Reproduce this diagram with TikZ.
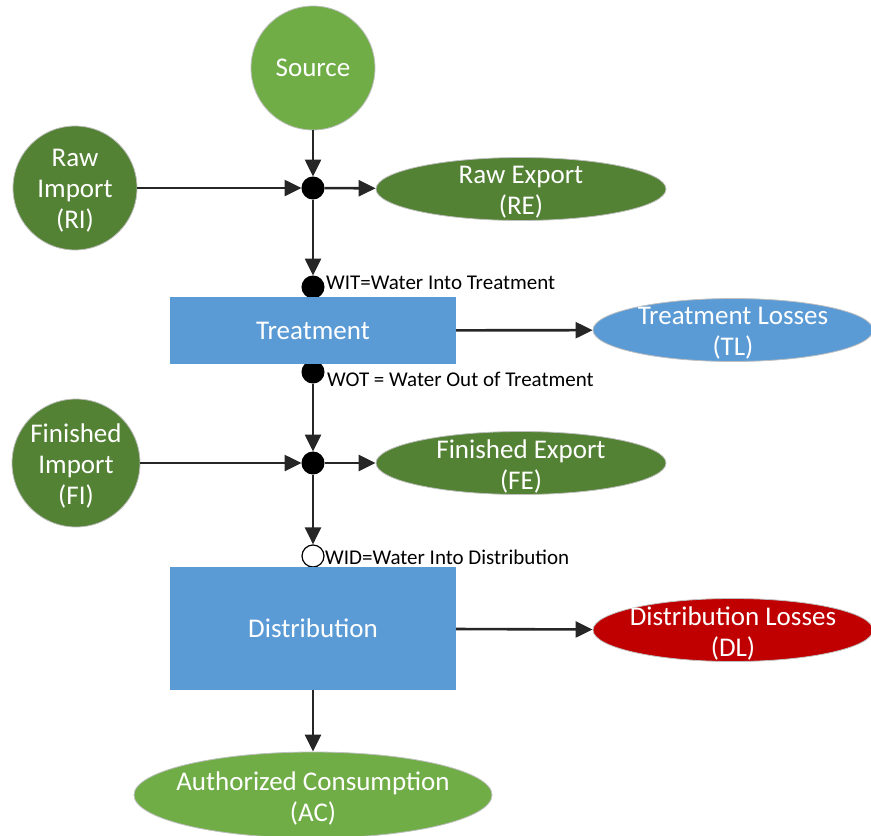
\documentclass[tikz,border=0pt]{standalone}
\usepackage{fontspec}
\setmainfont{Carlito}
\usetikzlibrary{shapes.geometric,arrows.meta}

\definecolor{lightgrn}{HTML}{70AD47}
\definecolor{darkgrn}{HTML}{548235}
\definecolor{boxblue}{HTML}{5B9BD5}
\definecolor{lossred}{HTML}{C00000}
\definecolor{flowgray}{HTML}{262626}
\definecolor{rimgray}{HTML}{BFBFBF}

\begin{document}
\begin{tikzpicture}[x=1pt,y=-1pt,
  every node/.style={font=\fontsize{27}{31}\selectfont,text=white,align=center,inner sep=0pt},
  every label/.style={yshift=-3pt},
  disc/.style={circle,minimum size=124pt,draw=rimgray,line width=0.8pt},
  oval/.style={ellipse,minimum width=290pt,minimum height=63pt,draw=rimgray,line width=0.8pt},
  stage/.style={rectangle,fill=boxblue,minimum width=286pt},
  junction/.style={circle,minimum size=22pt,fill=black,draw=black,line width=1pt},
  openjunction/.style={circle,minimum size=22pt,fill=white,draw=black,line width=1.2pt},
  note/.style={font=\fontsize{21}{24}\selectfont,text=black,anchor=west},
  flow/.style={line width=2.6pt,draw=flowgray,-{Triangle[length=17pt,width=16pt]}}]

\useasboundingbox (0,0) rectangle (871,836);

% sources
\node[disc,fill=lightgrn] (source) at (313,68) {Source};
\node[disc,fill=darkgrn,label=center:{Raw\\Import\\(RI)}] (ri) at (75,188) {};
\node[disc,fill=darkgrn,minimum size=128pt,label=center:{Finished\\Import\\(FI)}] (fi) at (76,463) {};

% junctions
\node[junction] (j1) at (313,188) {};
\node[junction] (wit) at (313,287) {};
\node[junction] (wot) at (313,372) {};
\node[junction] (j2) at (313,463) {};
\node[openjunction] (wid) at (313,556) {};

% stages
\node[stage,minimum height=67pt] (treat) at (313,330.5) {Treatment};
\node[stage,minimum height=123pt] (dist) at (313,628.5) {Distribution};

% outputs
\node[oval,fill=darkgrn,label=center:{Raw Export\\(RE)}] (re) at (521,189) {};
\node[oval,fill=boxblue,minimum width=280pt,label=center:{Treatment Losses\\(TL)}] (tl) at (733,330) {};
\node[oval,fill=darkgrn,label=center:{Finished Export\\(FE)}] (fe) at (521,463) {};
\node[oval,fill=lossred,minimum width=280pt,label=center:{Distribution Losses\\(DL)}] (dl) at (733,630) {};
\node[oval,fill=lightgrn,minimum width=358pt,minimum height=86pt,label=center:{Authorized Consumption\\(AC)}] (ac) at (313,795) {};

% labels
\node[note] (witlbl) at (326,283) {WIT=Water Into Treatment};
\node[note] (wotlbl) at (327,379) {WOT = Water Out of Treatment};
\node[note] (widlbl) at (325,557) {WID=Water Into Distribution};

% flows
\draw[flow] (source) -- (j1);
\draw[flow] (ri) -- (j1);
\draw[flow] (j1) -- (re);
\draw[flow] (j1) -- (wit);
\draw[flow] (treat) -- (tl);
\draw[flow] (wot) -- (j2);
\draw[flow] (fi) -- (j2);
\draw[flow] (j2) -- (fe);
\draw[flow] (j2) -- (wid);
\draw[flow] (dist) -- (dl);
\draw[flow] (dist) -- (ac);

\end{tikzpicture}
\end{document}
